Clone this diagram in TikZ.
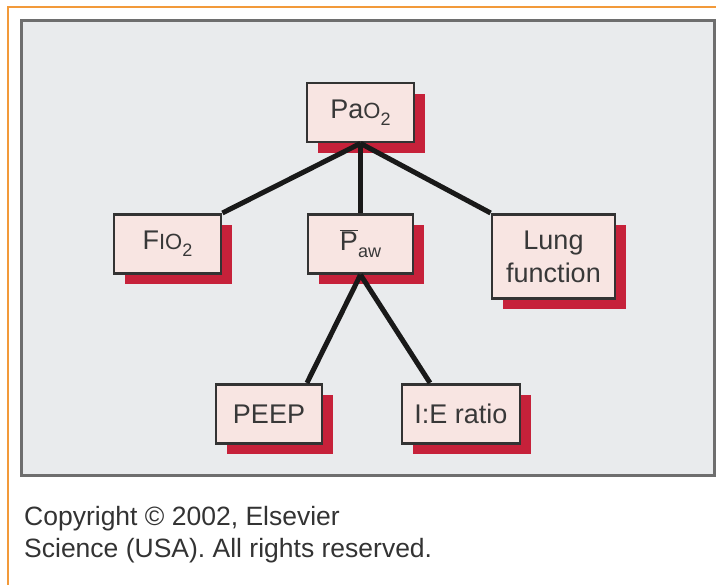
\documentclass[tikz,border=0pt]{standalone}
\usepackage{fontspec}
\setmainfont{Liberation Sans}
\usetikzlibrary{shadows}

\definecolor{boxpink}{HTML}{F8E5E2}
\definecolor{shadowred}{HTML}{C6213A}
\definecolor{boxframe}{HTML}{333333}
\definecolor{panelgray}{HTML}{E9EBED}
\definecolor{panelframe}{HTML}{6E6E6E}
\definecolor{frameorange}{HTML}{F29A3A}
\definecolor{textgray}{HTML}{383838}

\newcommand{\smallcap}[1]{{\fontsize{22}{22}\selectfont #1}}
\newcommand{\lowsub}[1]{\raisebox{-7pt}{\fontsize{18}{18}\selectfont #1}}

\begin{document}
\begin{tikzpicture}[
      x=1pt, y=1pt,
      level distance=100.5pt,
      level 1/.style={sibling distance=193pt},
      level 2/.style={sibling distance=192pt, level distance=139pt},
      parent anchor=south,
      every child node/.style={anchor=north},
      edge from parent/.style={draw=black!90, line width=5pt},
      ventbox/.style={draw=boxframe, line width=2.8pt, fill=boxpink, text=textgray,
        minimum height=59pt, inner sep=0pt, align=center,
        font=\fontsize{27}{33}\selectfont,
        drop shadow={shadow xshift=11pt, shadow yshift=-11pt, fill=shadowred, opacity=1}}
    ]
    \useasboundingbox (0,0) rectangle (716,585);
    \draw[frameorange, line width=2pt] (8,0) -- (8,578) -- (716,578);
    \draw[panelframe, fill=panelgray, line width=3pt] (21,109) rectangle (714,564);

    \node (pao2) [ventbox, minimum width=107pt] at (360.5,472.5) {Pa\smallcap{O}\lowsub{2}}
    child[child anchor=north east] {node (fio2) [ventbox, minimum width=107pt] {F\smallcap{IO}\lowsub{2}}}
    child {node (paw) [ventbox, minimum width=105pt] {$\overline{\hbox{P}}$\lowsub{aw}}
      child[edge from parent path={(\tikzparentnode.south) -- ([xshift=38pt]\tikzchildnode.north)}]
        {node (peep) [ventbox, minimum width=106pt, xshift=4.5pt] {PEEP}}
      child[edge from parent path={(\tikzparentnode.south) -- ([xshift=-31pt]\tikzchildnode.north)}]
        {node (ieratio) [ventbox, minimum width=118pt, xshift=4.5pt] {I:E ratio}}}
    child[child anchor=north west] {node (lung) [ventbox, minimum width=123pt, minimum height=84pt] {Lung\\function}};

    \node (copyright) [anchor=north west, align=left, inner sep=0pt, text=black!80,
      font=\fontsize{26.5}{32}\selectfont] at (24,79)
      {Copyright \textcopyright\ 2002, Elsevier\\Science (USA). All rights reserved.};
  \end{tikzpicture}
\end{document}
